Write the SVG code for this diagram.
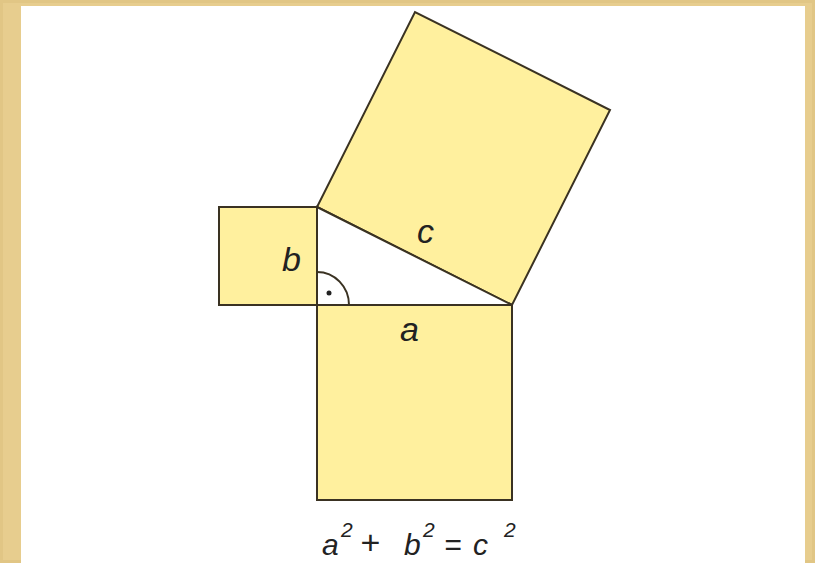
<svg xmlns="http://www.w3.org/2000/svg" width="815" height="563" viewBox="0 0 815 563">
<style>
.sq{fill:#FFF09E;stroke:#3A3222;stroke-width:2;stroke-linejoin:miter}
.lbl{font-family:"Liberation Sans",Arial,sans-serif;font-style:italic;font-size:34px;fill:#222}
.eq{font-family:"Liberation Sans",Arial,sans-serif;font-style:italic;font-size:30px;fill:#222}
.sup{font-family:"Liberation Sans",Arial,sans-serif;font-style:italic;font-size:21px;fill:#222}
</style>
<rect x="0" y="0" width="815" height="563" fill="#E7CD8E"/>
<rect x="0" y="0" width="815" height="563" fill="none" stroke="#DCC07C" stroke-width="6" opacity="0.5"/>
<rect x="21" y="6" width="784" height="557" fill="#FFFFFF"/>
<g id="square-c"><polygon class="sq" points="317,207 512,305 610,110 415,12"/></g>
<g id="square-b"><rect class="sq" x="219" y="207" width="98" height="98"/></g>
<g id="square-a"><rect class="sq" x="317" y="305" width="195" height="195"/></g>
<g id="triangle">
<polygon points="317,207 512,305 317,305" fill="#FFFFFF" stroke="#3A3222" stroke-width="2"/>
<path d="M317,272 A32,33 0 0 1 349,305" fill="none" stroke="#3A3222" stroke-width="2"/>
<circle cx="329" cy="293" r="2.5" fill="#222"/>
</g>
<g id="labels">
<text class="lbl" x="282" y="271">b</text>
<text class="lbl" x="417" y="243">c</text>
<text class="lbl" x="400" y="341">a</text>
</g>
<g id="equation">
<text class="eq" x="322" y="555">a</text>
<text class="sup" x="341" y="537">2</text>
<text class="eq" x="360" y="554" style="font-size:34px">+</text>
<text class="eq" x="404" y="555">b</text>
<text class="sup" x="423" y="537">2</text>
<text class="eq" x="444" y="555">=</text>
<text class="eq" x="473" y="555">c</text>
<text class="sup" x="504" y="537">2</text>
</g>
</svg>
